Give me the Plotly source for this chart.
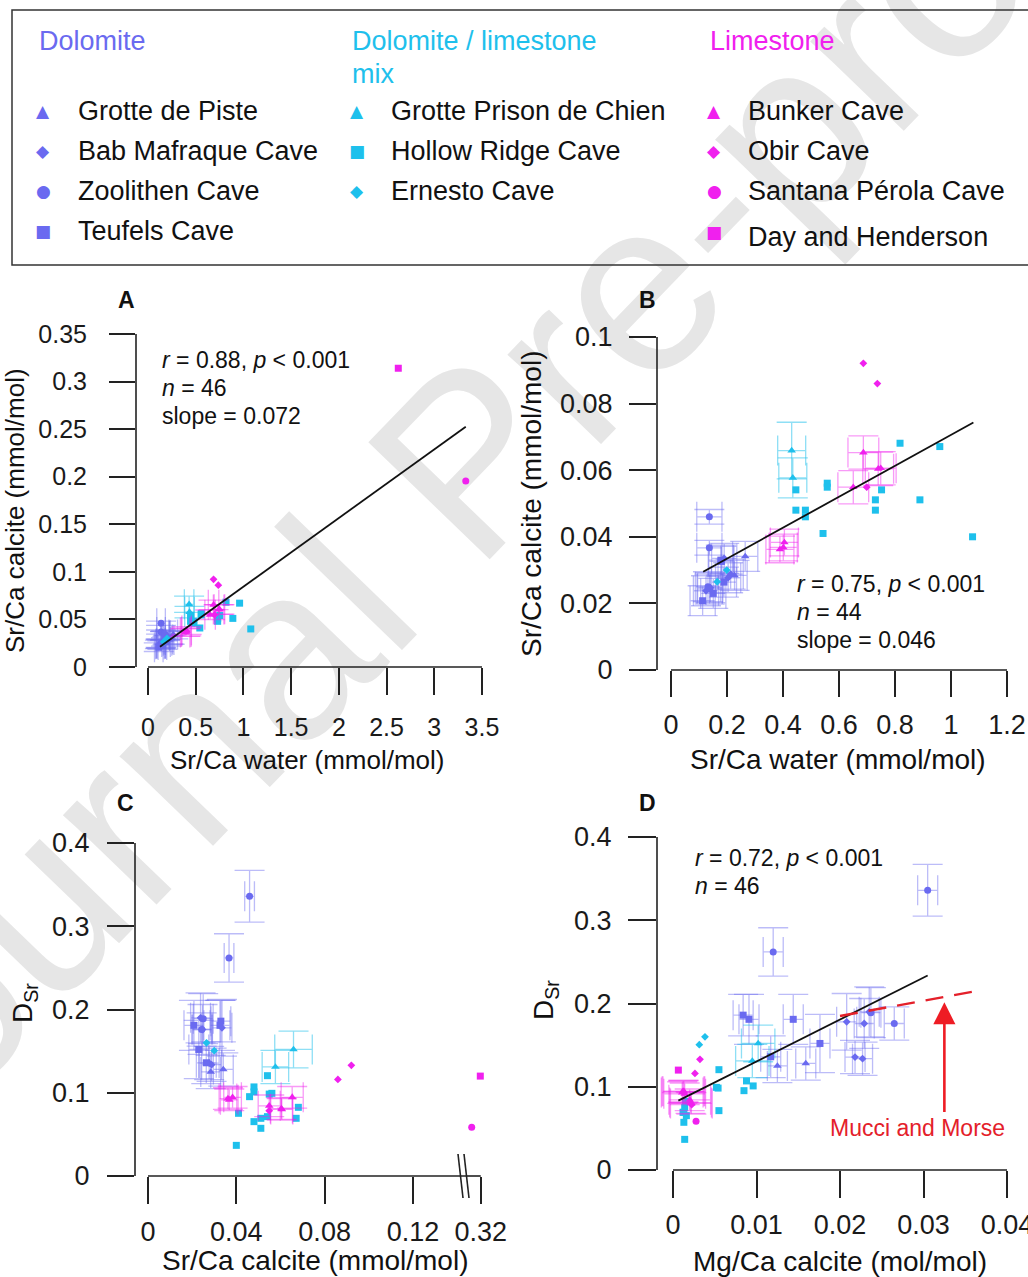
import plotly.graph_objects as go

W, H = 1028, 1277
FONT = "Liberation Sans, Arial, Helvetica, sans-serif"

# ---------------- colours ----------------
DOL, MIX, LIM = "#6a6af0", "#1ec0ec", "#f020ee"
DOL_E, MIX_E, LIM_E = "rgba(106,106,240,0.45)", "rgba(30,192,236,0.5)", "rgba(240,32,238,0.45)"

# ---------------- data: Dolomite ----------------
piste_water = [0.227, 0.265]
piste_calcite = [0.0284, 0.0341]
piste_dsr = [0.125, 0.128]
piste_mgca = [0.0125, 0.0159]
piste_water_err = [0.045, 0.045]
piste_calcite_err = [0.0045, 0.0045]
piste_dsr_err = [0.02, 0.02]
piste_mgca_err = [0.0012, 0.0012]

bab_water = [0.125, 0.190, 0.140, 0.204, 0.213]
bab_calcite = [0.0238, 0.0335, 0.0247, 0.0277, 0.0288]
bab_dsr = [0.190, 0.178, 0.176, 0.1357, 0.1337]
bab_mgca = [0.0235, 0.0208, 0.0229, 0.0218, 0.0227]
bab_water_err = [0.045, 0.045, 0.045, 0.045, 0.045]
bab_calcite_err = [0.0045, 0.0045, 0.0045, 0.0045, 0.0045]
bab_dsr_err = [0.03, 0.034, 0.03, 0.02, 0.02]
bab_mgca_err = [0.0012, 0.0012, 0.0012, 0.0012, 0.0012]

zoo_water = [0.137, 0.137, 0.132, 0.138]
zoo_calcite = [0.0460, 0.0367, 0.0250, 0.0243]
zoo_dsr = [0.336, 0.262, 0.189, 0.176]
zoo_mgca = [0.0305, 0.0120, 0.0237, 0.0265]
zoo_water_err = [0.045, 0.045, 0.045, 0.045]
zoo_calcite_err = [0.0022, 0.0022, 0.0045, 0.0045]
zoo_dsr_err = [0.031, 0.029, 0.03, 0.02]
zoo_mgca_err = [0.0012, 0.0012, 0.0012, 0.0012]

teu_water = [0.178, 0.113, 0.180, 0.151, 0.189]
teu_calcite = [0.0330, 0.0208, 0.0326, 0.0230, 0.0264]
teu_dsr = [0.186, 0.181, 0.181, 0.152, 0.136]
teu_mgca = [0.0084, 0.0091, 0.0144, 0.0176, 0.0117]
teu_water_err = [0.045, 0.045, 0.045, 0.045, 0.045]
teu_calcite_err = [0.0045, 0.0045, 0.0045, 0.0045, 0.0045]
teu_dsr_err = [0.025, 0.03, 0.03, 0.035, 0.025]
teu_mgca_err = [0.0012, 0.0012, 0.0012, 0.0012, 0.0012]

# ---------------- data: Dolomite / limestone mix ----------------
gpc_water = [0.431, 0.435]
gpc_calcite = [0.0659, 0.0577]
gpc_dsr = [0.152, 0.131]
gpc_mgca = [0.0102, 0.0095]
gpc_water_err = [0.05, 0.05]
gpc_calcite_err = [0.0085, 0.006]
gpc_dsr_err = [0.022, 0.02]
gpc_mgca_err = [0.002, 0.002]

hr_water = [0.818, 0.960, 0.446, 0.558, 0.558, 0.752, 0.730, 0.730, 0.889, 0.446, 0.480, 0.480, 0.543, 1.077]
hr_calcite = [0.0681, 0.0671, 0.0541, 0.0561, 0.0549, 0.0541, 0.0511, 0.0480, 0.0511, 0.0480, 0.0480, 0.0460, 0.0410, 0.0400]
hr_dsr = [0.0825, 0.0693, 0.1205, 0.0993, 0.0984, 0.0713, 0.0693, 0.0653, 0.0573, 0.107, 0.101, 0.0953, 0.0753, 0.0368]
hr_mgca = [0.0015, 0.0013, 0.0055, 0.0052, 0.0054, 0.0055, 0.0012, 0.0016, 0.0013, 0.0088, 0.0096, 0.0085, 0.0014, 0.0014]

ern_water = [0.199, 0.165]
ern_calcite = [0.0300, 0.0265]
ern_dsr = [0.1505, 0.160]
ern_mgca = [0.00315, 0.00383]

# ---------------- data: Limestone ----------------
bunker_water = [0.687, 0.651, 0.740, 0.749, 0.405, 0.389, 0.401]
bunker_calcite = [0.0653, 0.0549, 0.0604, 0.0606, 0.0383, 0.0362, 0.0368]
bunker_dsr = [0.0945, 0.0843, 0.081, 0.080, 0.0945, 0.093, 0.0915]
bunker_mgca = [0.0012, 0.0020, 0.0021, 0.0022, 0.0013, 0.0011, 0.0014]
bunker_water_err = [0.055, 0.055, 0.055, 0.055, 0.05, 0.05, 0.05]
bunker_calcite_err = [0.005, 0.005, 0.005, 0.005, 0.004, 0.004, 0.004]
bunker_dsr_err = [0.013, 0.013, 0.013, 0.013, 0.013, 0.013, 0.013]
bunker_mgca_err = [0.0025, 0.0025, 0.0025, 0.0025, 0.0025, 0.0025, 0.0025]

obir_water = [0.687, 0.737, 0.699]
obir_calcite = [0.0921, 0.0860, 0.0549]
obir_dsr = [0.133, 0.116, 0.0785]
obir_mgca = [0.00323, 0.00263, 0.00224]

santana_water = [3.33]
santana_calcite = [0.1955]
santana_dsr = [0.0585]
santana_mgca = [0.00276]

day_water = [2.623]
day_calcite = [0.314]
day_dsr = [0.120]
day_mgca = [0.00064]

# regression lines (end points) and Mucci & Morse trend
fitA_x, fitA_y = [0.126, 3.33], [0.0213, 0.2526]
fitB_x, fitB_y = [0.115, 1.08], [0.0295, 0.0743]
fitD_x, fitD_y = [0.00064, 0.0305], [0.0833, 0.2336]
mucci_x, mucci_y = [0.0200, 0.0362], [0.185, 0.2147]

# tick labels
A_xticks, A_yticks = [0, 0.5, 1, 1.5, 2, 2.5, 3, 3.5], [0, 0.05, 0.1, 0.15, 0.2, 0.25, 0.3, 0.35]
B_xticks, B_yticks = [0, 0.2, 0.4, 0.6, 0.8, 1, 1.2], [0, 0.02, 0.04, 0.06, 0.08, 0.1]
C_xticks, C_xbreak, C_yticks = [0, 0.04, 0.08, 0.12], [0.32], [0, 0.1, 0.2, 0.3, 0.4]
D_xticks, D_yticks = [0, 0.01, 0.02, 0.03, 0.04], [0, 0.1, 0.2, 0.3, 0.4]


def lab(v):
    return ("%g" % v)


sites = [
    dict(sym="triangle-up", sz=7.5, c=DOL, e=DOL_E, w=piste_water, ca=piste_calcite, d=piste_dsr, m=piste_mgca,
         we=piste_water_err, cae=piste_calcite_err, de=piste_dsr_err, me=piste_mgca_err),
    dict(sym="diamond", sz=6, c=DOL, e=DOL_E, w=bab_water, ca=bab_calcite, d=bab_dsr, m=bab_mgca,
         we=bab_water_err, cae=bab_calcite_err, de=bab_dsr_err, me=bab_mgca_err),
    dict(sym="circle", sz=7, c=DOL, e=DOL_E, w=zoo_water, ca=zoo_calcite, d=zoo_dsr, m=zoo_mgca,
         we=zoo_water_err, cae=zoo_calcite_err, de=zoo_dsr_err, me=zoo_mgca_err),
    dict(sym="square", sz=7, c=DOL, e=DOL_E, w=teu_water, ca=teu_calcite, d=teu_dsr, m=teu_mgca,
         we=teu_water_err, cae=teu_calcite_err, de=teu_dsr_err, me=teu_mgca_err),
    dict(sym="triangle-up", sz=7.5, c=MIX, e=MIX_E, w=gpc_water, ca=gpc_calcite, d=gpc_dsr, m=gpc_mgca,
         we=gpc_water_err, cae=gpc_calcite_err, de=gpc_dsr_err, me=gpc_mgca_err),
    dict(sym="square", sz=7, c=MIX, e=MIX_E, w=hr_water, ca=hr_calcite, d=hr_dsr, m=hr_mgca),
    dict(sym="diamond", sz=6, c=MIX, e=MIX_E, w=ern_water, ca=ern_calcite, d=ern_dsr, m=ern_mgca),
    dict(sym="triangle-up", sz=7.5, c=LIM, e=LIM_E, w=bunker_water, ca=bunker_calcite, d=bunker_dsr, m=bunker_mgca,
         we=bunker_water_err, cae=bunker_calcite_err, de=bunker_dsr_err, me=bunker_mgca_err),
    dict(sym="diamond", sz=6, c=LIM, e=LIM_E, w=obir_water, ca=obir_calcite, d=obir_dsr, m=obir_mgca),
    dict(sym="circle", sz=7, c=LIM, e=LIM_E, w=santana_water, ca=santana_calcite, d=santana_dsr, m=santana_mgca,
         out=True),
    dict(sym="square", sz=7, c=LIM, e=LIM_E, w=day_water, ca=day_calcite, d=day_dsr, m=day_mgca, out=True),
]

fig = go.Figure()


def err(arr, color):
    if arr is None:
        return None
    return dict(type="data", array=arr, visible=True, color=color, thickness=1.3, width=15)


def add(x, y, ex, ey, s, xa, ya):
    fig.add_trace(go.Scatter(
        x=x, y=y, mode="markers", xaxis=xa, yaxis=ya,
        marker=dict(symbol=s["sym"], size=s["sz"], color=s["c"], line=dict(width=0)),
        error_x=err(ex, s["e"]), error_y=err(ey, s["e"]), showlegend=False, hoverinfo="skip"))


for s in sites:
    add(s["w"], s["ca"], s.get("we"), s.get("cae"), s, "x", "y")                      # A
    if not s.get("out"):
        add(s["w"], s["ca"], s.get("we"), s.get("cae"), s, "x2", "y2")                # B
    add(s["ca"], s["d"], s.get("cae"), s.get("de"), s, "x5" if s.get("out") else "x3", "y3")  # C
    add(s["m"], s["d"], s.get("me"), s.get("de"), s, "x4", "y4")                      # D

for fx, fy, xa, ya in [(fitA_x, fitA_y, "x", "y"), (fitB_x, fitB_y, "x2", "y2"), (fitD_x, fitD_y, "x4", "y4")]:
    fig.add_trace(go.Scatter(x=fx, y=fy, mode="lines", xaxis=xa, yaxis=ya,
                             line=dict(color="#111", width=1.8), showlegend=False, hoverinfo="skip"))
fig.add_trace(go.Scatter(x=mucci_x, y=mucci_y, mode="lines", xaxis="x4", yaxis="y4",
                         line=dict(color="#e4202a", width=2.4, dash="18px,11px"),
                         showlegend=False, hoverinfo="skip"))


# ---------------- axes ----------------
def px_x(px):
    return px / W


def px_y(py):
    return 1 - py / H


def axis(dom, rng, vals, fsize, tlen, standoff, anchor, labels=None):
    return dict(domain=dom, range=rng, tickmode="array", tickvals=vals,
                ticktext=labels if labels else [lab(v) for v in vals],
                ticks="outside", ticklen=tlen, tickwidth=1.6, tickcolor="#222",
                showgrid=False, zeroline=False, showline=False, anchor=anchor, automargin=False,
                tickfont=dict(size=fsize, color="#1a1a1a", family=FONT), ticklabeloverflow="allow",
                ticklabelstandoff=standoff, fixedrange=True)


lay = dict(
    xaxis=axis([px_x(136), px_x(492)], [-0.1257, 3.605], A_xticks, 25, 27, 11, "y"),
    yaxis=axis([px_y(667), px_y(320)], [0, 0.3647], A_yticks, 25, 26, 17, "x"),
    xaxis2=axis([px_x(657), px_x(1020)], [-0.05, 1.24643], B_xticks, 27, 26, 5, "y2"),
    yaxis2=axis([px_y(670), px_y(325)], [0, 0.103604], B_yticks, 27, 27, 11, "x2"),
    xaxis3=axis([px_x(135), px_x(466)], [-0.005888, 0.144022], C_xticks, 27, 27, 5, "y3"),
    xaxis5=axis([px_x(466), px_x(495)], [0.11699, 0.51644], C_xbreak, 27, 27, 5, "y3"),
    yaxis3=axis([px_y(1176), px_y(830)], [0, 0.415616], C_yticks, 27, 27, 12, "x3"),
    xaxis4=axis([px_x(657), 1.0], [-0.0019162, 0.042515], D_xticks, 27, 27, 4, "y4"),
    yaxis4=axis([px_y(1170), px_y(825)], [0, 0.414414], D_yticks, 27, 28, 11, "x4"),
)
fig.update_layout(template="none", **lay)

LINE = dict(color="#222", width=1.6)
shapes = [
    # axis lines
    dict(type="line", xref="x", yref="y domain", x0=0, x1=3.5, y0=0, y1=0, line=LINE),
    dict(type="line", xref="x domain", yref="y", x0=0, x1=0, y0=0, y1=0.35, line=LINE),
    dict(type="line", xref="x2", yref="y2 domain", x0=0, x1=1.2, y0=0, y1=0, line=LINE),
    dict(type="line", xref="x2 domain", yref="y2", x0=0, x1=0, y0=0, y1=0.1, line=LINE),
    dict(type="line", xref="x3", yref="y3 domain", x0=0, x1=0.144022, y0=0, y1=0, line=LINE),
    dict(type="line", xref="x5", yref="y3 domain", x0=0.11699, x1=0.32, y0=0, y1=0, line=LINE),
    dict(type="line", xref="x3 domain", yref="y3", x0=0, x1=0, y0=0, y1=0.4, line=LINE),
    dict(type="line", xref="x4", yref="y4 domain", x0=0, x1=0.04, y0=0, y1=0, line=LINE),
    dict(type="line", xref="x4 domain", yref="y4", x0=0, x1=0, y0=0, y1=0.4, line=LINE),
    # axis break marks in C
    dict(type="line", xref="paper", yref="paper", x0=px_x(458), x1=px_x(463), y0=px_y(1154), y1=px_y(1198), line=LINE),
    dict(type="line", xref="paper", yref="paper", x0=px_x(464), x1=px_x(469), y0=px_y(1154), y1=px_y(1198), line=LINE),
    # legend frame
    dict(type="rect", xref="paper", yref="paper", x0=px_x(12), x1=1.05, y0=px_y(265), y1=px_y(10),
         line=dict(color="#333", width=1.5), fillcolor="rgba(0,0,0,0)"),
    # watermark
    dict(type="rect", xref="paper", yref="paper", x0=px_x(450) - 0.2, x1=px_x(450) + 0.2,
         y0=px_y(445) - 0.2, y1=px_y(445) + 0.2, line=dict(width=0), fillcolor="rgba(0,0,0,0)", layer="below",
         label=dict(text="Journal Pre-proof", textangle=-46, textposition="middle center",
                    font=dict(size=245, color="#e6e6e6", family=FONT))),
]

ann = []


def text(t, px, py, size, color="#111", xanchor="left", angle=0, family=FONT):
    ann.append(dict(text=t, x=px_x(px), y=px_y(py), xref="paper", yref="paper", showarrow=False,
                    xanchor=xanchor, yanchor="middle", textangle=angle,
                    font=dict(size=size, color=color, family=family)))


# panel letters
for t, px, py in [("A", 126, 300), ("B", 647, 300), ("C", 125, 803), ("D", 647, 803)]:
    text("<b>%s</b>" % t, px, py, 23, xanchor="center")

# axis titles
text("Sr/Ca water (mmol/mol)", 307, 760, 26, xanchor="center")
text("Sr/Ca calcite (mmol/mol)", 15, 511, 26, xanchor="center", angle=-90)
text("Sr/Ca water (mmol/mol)", 838, 759, 28, xanchor="center")
text("Sr/Ca calcite (mmol/mol)", 531, 504, 28, xanchor="center", angle=-90)
text("Sr/Ca calcite (mmol/mol)", 315, 1260, 28, xanchor="center")
text("D<sub>Sr</sub>", 24, 1003, 28, xanchor="center", angle=-90)
text("Mg/Ca calcite (mol/mol)", 840, 1261, 28, xanchor="center")
text("D<sub>Sr</sub>", 545, 1000, 28, xanchor="center", angle=-90)

# statistics
text("<i>r</i> = 0.88, <i>p</i> &lt; 0.001", 160, 360, 23)
text("<i>n</i> = 46", 160, 388, 23)
text("slope = 0.072", 160, 416, 23)
text("<i>r</i> = 0.75, <i>p</i> &lt; 0.001", 795, 584, 23)
text("<i>n</i> = 44", 795, 612, 23)
text("slope = 0.046", 795, 640, 23)
text("<i>r</i> = 0.72, <i>p</i> &lt; 0.001", 693, 858, 23)
text("<i>n</i> = 46", 693, 886, 23)
text("Mucci and Morse", 917, 1128, 23, color="#e4202a", xanchor="center")

# arrow to Mucci and Morse line
ann.append(dict(x=0.0325, y=0.2015, ax=0.0325, ay=0.068, xref="x4", yref="y4", axref="x4", ayref="y4",
                text="", showarrow=True, arrowhead=2, arrowsize=1.7, arrowwidth=2.6, arrowcolor="#ee1c24"))

# legend
LF = 27
text("Dolomite", 37, 41, LF, color=DOL)
text("Dolomite / limestone", 350, 41, LF, color=MIX)
text("mix", 350, 74, LF, color=MIX)
text("Limestone", 708, 41, LF, color=LIM)
GLYPH = "DejaVu Sans"
legend_rows = [
    (43, 76, [("▲", DOL, "Grotte de Piste", 111, 111), ("◆", DOL, "Bab Mafraque Cave", 151, 151),
              ("●", DOL, "Zoolithen Cave", 191, 191), ("■", DOL, "Teufels Cave", 231, 231)]),
    (357, 389, [("▲", MIX, "Grotte Prison de Chien", 111, 111), ("■", MIX, "Hollow Ridge Cave", 151, 151),
                ("◆", MIX, "Ernesto Cave", 191, 191)]),
    (714, 746, [("▲", LIM, "Bunker Cave", 111, 111), ("◆", LIM, "Obir Cave", 151, 151),
                ("●", LIM, "Santana Pérola Cave", 191, 191), ("■", LIM, "Day and Henderson", 232, 237)]),
]
for gx, tx, rows in legend_rows:
    for g, col, name, gy, ty in rows:
        text(g, gx, gy, 17, color=col, xanchor="center", family=GLYPH)
        text(name, tx, ty, LF)

fig.update_layout(width=W, height=H, margin=dict(l=0, r=0, t=0, b=0, pad=0), autosize=False,
                  paper_bgcolor="white", plot_bgcolor="rgba(0,0,0,0)", showlegend=False,
                  shapes=shapes, annotations=ann, font=dict(family=FONT))
fig.write_html("out.html")
